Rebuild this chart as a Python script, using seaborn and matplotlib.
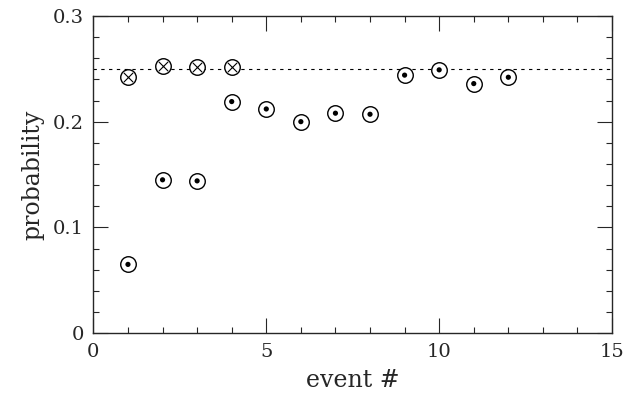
import numpy as np
import pandas as pd
import matplotlib
matplotlib.use("Agg")
import matplotlib.pyplot as plt
import seaborn as sns

sns.set_style("ticks")
plt.rcParams["font.family"] = ["DejaVu Serif"]

# open circles with a dot
event = [1, 2, 3, 4, 5, 6, 7, 8, 9, 10, 11, 12]
prob = [0.065, 0.145, 0.144, 0.219, 0.212, 0.200, 0.208, 0.207, 0.244, 0.249, 0.236, 0.242]
# open circles with a cross
event_x = [1, 2, 3, 4]
prob_x = [0.242, 0.253, 0.252, 0.252]
ref_level = 0.25

dots = pd.DataFrame({"event": event, "prob": prob})
cross = pd.DataFrame({"event": event_x, "prob": prob_x})

fig = plt.figure(figsize=(6.31, 3.98), dpi=100)
ax = fig.add_axes([0.148, 0.163, 0.822, 0.797])

ax.axhline(ref_level, color="black", lw=0.8, ls=(0, (3, 4)), zorder=1)

ring = dict(s=125, facecolor="white", edgecolor="black", linewidth=1.0, zorder=3)
sns.scatterplot(data=dots, x="event", y="prob", marker="o", ax=ax, **ring)
sns.scatterplot(data=dots, x="event", y="prob", marker="o", s=14, color="black",
                edgecolor="none", ax=ax, zorder=4)
sns.scatterplot(data=cross, x="event", y="prob", marker="o", ax=ax, **ring)
sns.scatterplot(data=cross, x="event", y="prob", marker="x", s=45, color="black",
                linewidth=0.8, ax=ax, zorder=4)

ax.set_xlim(0, 15)
ax.set_ylim(0, 0.3)
ax.set_xticks([0, 5, 10, 15])
ax.set_xticklabels(["0", "5", "10", "15"])
ax.set_yticks([0, 0.1, 0.2, 0.3])
ax.set_yticklabels(["0", "0.1", "0.2", "0.3"])
ax.set_xticks(np.arange(0, 16, 1), minor=True)
ax.set_yticks(np.arange(0, 0.31, 0.02), minor=True)
ax.tick_params(which="both", direction="in", top=True, right=True, labelsize=14, pad=7)
ax.tick_params(which="major", length=10.5, width=0.8)
ax.tick_params(which="minor", length=4.5, width=0.8)
for s in ax.spines.values():
    s.set_linewidth(1.0)

ax.set_xlabel("event #", fontsize=17, labelpad=6)
ax.set_ylabel("probability", fontsize=17, labelpad=6)

fig.savefig("out.png", dpi=100)
